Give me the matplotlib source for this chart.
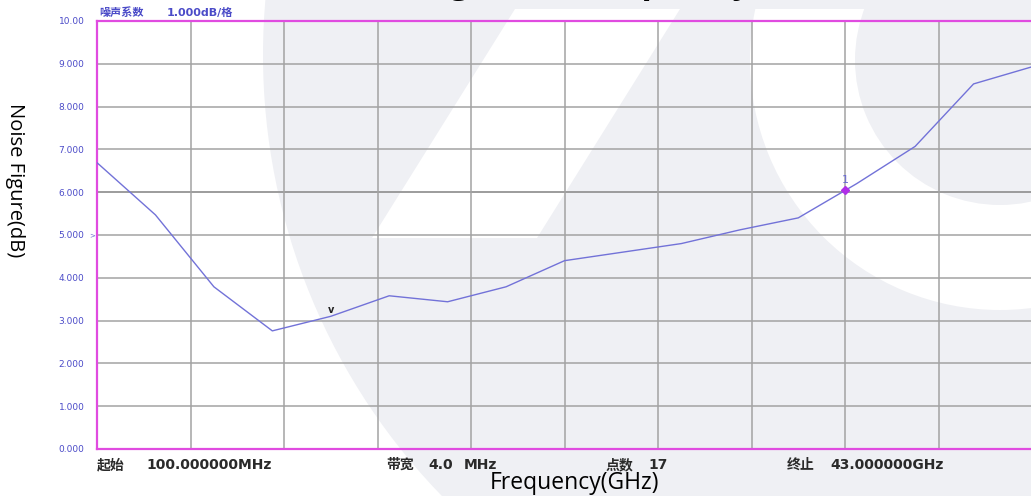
import matplotlib
matplotlib.use("Agg")
import matplotlib.pyplot as plt
import numpy as np
from matplotlib import patches, transforms

W, H = 1031, 496

# ───────────── data ─────────────
freq_ghz = [0.100, 2.781, 5.463, 8.144, 10.825, 13.506, 16.188, 18.869, 21.550,
            24.231, 26.913, 29.594, 32.275, 34.956, 37.638, 40.319, 43.000]
noise_db = [6.69, 5.47, 3.79, 2.76, 3.10, 3.58, 3.44, 3.79, 4.40,
            4.60, 4.80, 5.12, 5.40, 6.20, 7.07, 8.53, 8.93]
start_ghz, stop_ghz = 0.1, 43.0
marker1_ghz = 34.42
ytick_vals = list(range(11))
ytick_labels = ["0.000", "1.000", "2.000", "3.000", "4.000", "5.000",
                "6.000", "7.000", "8.000", "9.000", "10.00"]

CJK = ["DejaVu Sans", "Noto Sans CJK SC"]
TRACE = "#7272d8"
LABEL_BLUE = "#4b4bc8"
MAGENTA = "#e04be0"

fig = plt.figure(figsize=(W / 100, H / 100), dpi=100, facecolor="white")
# pixel coords, origin top-left
pix = transforms.Affine2D().scale(1 / W, -1 / H).translate(0, 1) + fig.transFigure

# ───────────── faint watermark in the background ─────────────
wm = "#eff0f4"
disc = patches.Circle((896, 55), 633, transform=pix, fc=wm, ec="none", zorder=-3)
fig.add_artist(disc)
clip = patches.Rectangle((0, 9), W, H, transform=pix)
slash = patches.Polygon([(515, 9), (680, 9), (537, 238), (372, 238)], closed=True,
                        transform=pix, fc="white", ec="none", zorder=-2)
ring = patches.Wedge((1000, 60), 250, 0, 360, width=105, transform=pix,
                     fc="white", ec="none", zorder=-2)
for p in (slash, ring):
    fig.add_artist(p)
    p.set_clip_path(clip)

# ───────────── axes ─────────────
ax = fig.add_axes([97 / W, 1 - 449 / H, (W - 96) / W, (449 - 21) / H])
ax.set_facecolor("none")
ax.set_xlim(start_ghz, stop_ghz)
ax.set_ylim(0, 10)
ax.set_xticks(np.linspace(start_ghz, stop_ghz, 11))
ax.set_yticks(ytick_vals)
ax.set_yticklabels(ytick_labels)
ax.tick_params(length=0, pad=9, labelcolor=LABEL_BLUE, labelsize=6.5, labelbottom=False)
ax.grid(True, color="#a3a3a3", lw=1.1)
ax.axhline(6, color="#707070", lw=1.1, zorder=1)
for s in ("left", "top", "bottom"):
    ax.spines[s].set_color(MAGENTA)
    ax.spines[s].set_linewidth(1.6)
ax.spines["right"].set_visible(False)

ax.plot(freq_ghz, noise_db, color=TRACE, lw=1.0, zorder=3)

m_val = np.interp(marker1_ghz, freq_ghz, noise_db)
ax.plot(marker1_ghz, m_val, "D", ms=4.5, color="#b02ee8", zorder=4)
ax.text(marker1_ghz, m_val + 0.12, "1", color="#6a6ad0", fontsize=8,
        ha="center", va="bottom")
ax.text(freq_ghz[4], noise_db[4] + 0.02, "v", color="#222222", fontsize=7,
        fontweight="bold", ha="center", va="bottom")
ax.text(-0.002, 5.0, ">", transform=ax.get_yaxis_transform(), ha="right",
        va="center", fontsize=5, color="#6a6ad0")

# ───────────── annotation text ─────────────
fig.text(99, 16, "噪声系数", transform=pix, family=CJK, fontsize=8,
         fontweight="bold", color=LABEL_BLUE, va="baseline")
fig.text(167, 16, "1.000dB/格", transform=pix, family=CJK, fontsize=8,
         fontweight="bold", color=LABEL_BLUE, va="baseline")

bottom = [(97, "起始"), (146, "100.000000MHz"), (386, "带宽"), (428, "4.0"),
          (464, "MHz"), (606, "点数"), (648, "17"), (787, "终止"),
          (830, "43.000000GHz")]
for x, t in bottom:
    fig.text(x, 469, t, transform=pix, family=CJK, fontsize=10,
             fontweight="bold", color="#2a2a2a", va="baseline")

fig.text(575, 483, "Frequency(GHz)", transform=pix, family="Open Sans",
         fontsize=16.5, ha="center", va="center")
fig.text(15, 180, "Noise Figure(dB)", transform=pix, family="Open Sans",
         fontsize=14.5, rotation=270, ha="center", va="center")
# title sits almost entirely above the top edge in the original screenshot
fig.text(535, -7, "Noise Figure vs Frequency", transform=pix, family="Open Sans",
         fontsize=24, fontweight="bold", ha="center", va="baseline")

fig.savefig("out.png", dpi=100, facecolor=fig.get_facecolor())
